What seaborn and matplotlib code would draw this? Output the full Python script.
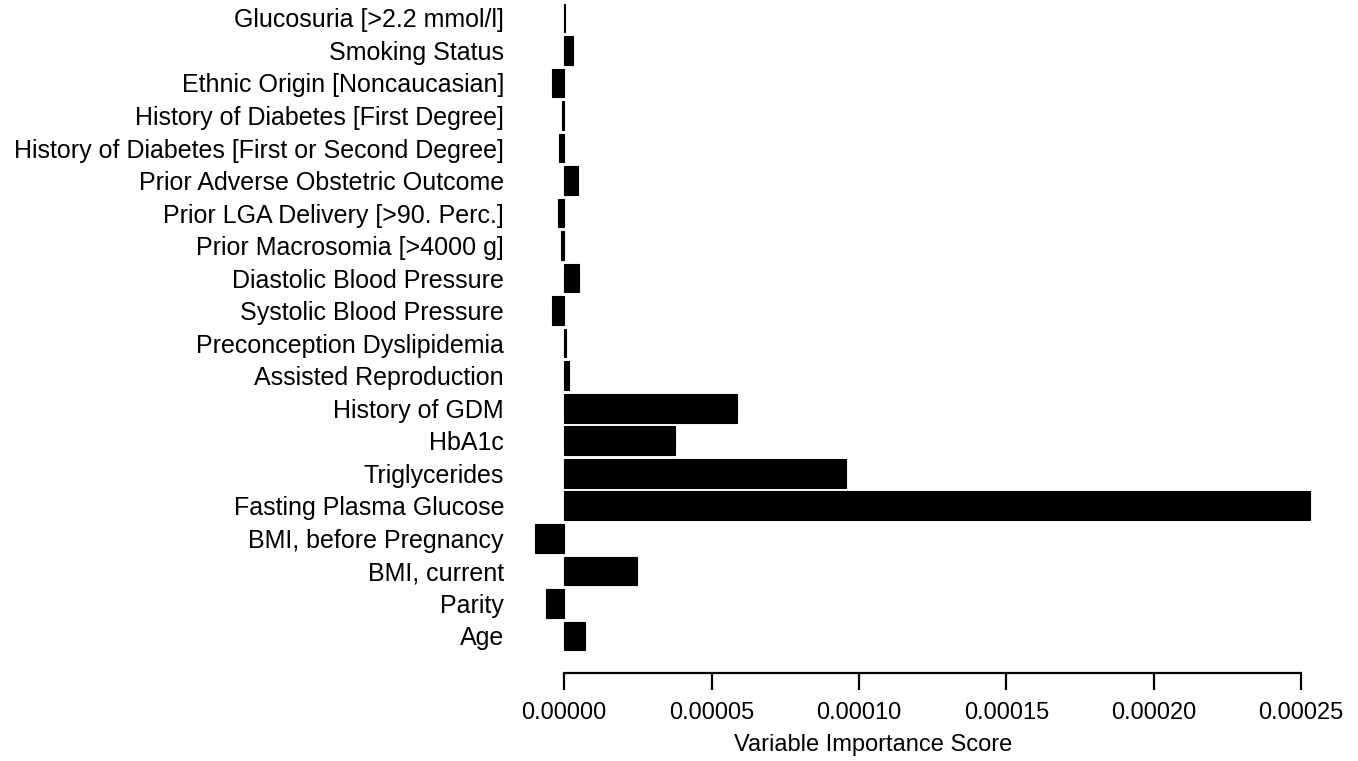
import matplotlib
matplotlib.use('Agg')
import matplotlib.pyplot as plt
import pandas as pd
import seaborn as sns

# variables listed top to bottom as in the figure
variables = [
    'Glucosuria [>2.2 mmol/l]',
    'Smoking Status',
    'Ethnic Origin [Noncaucasian]',
    'History of Diabetes [First Degree]',
    'History of Diabetes [First or Second Degree]',
    'Prior Adverse Obstetric Outcome',
    'Prior LGA Delivery [>90. Perc.]',
    'Prior Macrosomia [>4000 g]',
    'Diastolic Blood Pressure',
    'Systolic Blood Pressure',
    'Preconception Dyslipidemia',
    'Assisted Reproduction',
    'History of GDM',
    'HbA1c',
    'Triglycerides',
    'Fasting Plasma Glucose',
    'BMI, before Pregnancy',
    'BMI, current',
    'Parity',
    'Age',
]
importance = [
    0.0000003, 0.0000029, -0.0000042, -0.0000007, -0.0000019,
    0.0000046, -0.0000021, -0.0000011, 0.0000049, -0.0000042,
    0.0000006, 0.0000015, 0.0000587, 0.0000375, 0.0000956,
    0.0002530, -0.0000099, 0.0000247, -0.0000062, 0.0000071,
]
x_ticks = [0.0, 0.00005, 0.00010, 0.00015, 0.00020, 0.00025]
x_label = 'Variable Importance Score'


def main() -> None:
    df = pd.DataFrame({'variable': variables, 'importance': importance})

    sns.set_theme(style='white')
    plt.rcParams['font.family'] = ['Liberation Sans', 'DejaVu Sans']

    fig = plt.figure(figsize=(13.58, 7.61), dpi=100)
    ax = fig.add_axes([504 / 1358, 88 / 761, (1341 - 504) / 1358, 673 / 761])

    sns.barplot(
        data=df,
        x='importance',
        y='variable',
        order=variables,
        orient='h',
        color='black',
        saturation=1,
        width=0.88,
        edgecolor='black',
        linewidth=0.8,
        ax=ax,
    )

    ax.set_xlim(-0.0000204, 0.0002635)
    ax.set_ylim(20.14, -0.55)
    for side in ['top', 'right', 'left']:
        ax.spines[side].set_visible(False)
    ax.spines['bottom'].set_bounds(x_ticks[0], x_ticks[-1])
    ax.spines['bottom'].set_linewidth(1.6)
    ax.spines['bottom'].set_color('black')

    ax.set_xticks(x_ticks)
    ax.set_xticklabels([f'{t:.5f}' for t in x_ticks])
    ax.tick_params(axis='x', bottom=True, length=12, width=1.6, color='black',
                   labelsize=17, labelcolor='black', pad=9)
    ax.tick_params(axis='y', left=False, length=0, labelsize=18,
                   labelcolor='black', pad=0)
    ax.set_xlabel(x_label, fontsize=17, color='black')
    # label is centred a bit left of the axis span, as in the original
    ax.xaxis.set_label_coords(0.441, -0.091)
    ax.set_ylabel('')

    fig.savefig('out.png', dpi=100)
    plt.close(fig)


if __name__ == '__main__':
    main()
